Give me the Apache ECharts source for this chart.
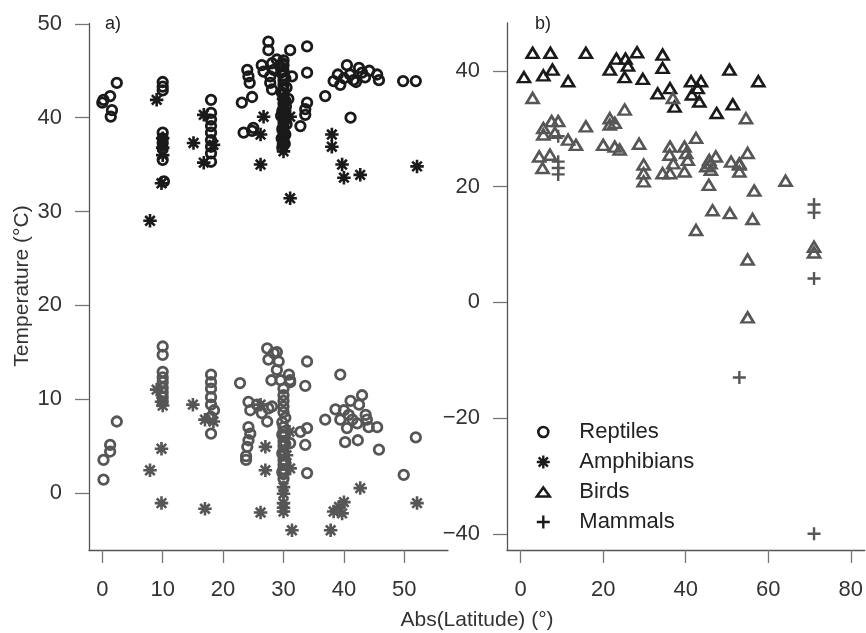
<!DOCTYPE html>
<html>
<head>
<meta charset="utf-8">
<script src="https://cdn.jsdelivr.net/npm/echarts@6/dist/echarts.min.js"></script>
<style>html,body{margin:0;padding:0;background:#fff}#c{width:866px;height:633px}</style>
</head>
<body>
<div id="c"></div>
<script>
// ---------- DATA ([abs latitude, temperature]) ----------
// Panel a) upper values (black)
const reptilesMaxA = [[0,41.6],[0.2,41.9],[1.3,42.3],[2.4,43.7],[1.6,40.8],[1.4,40.1],
  [10,43.8],[10,43.3],[10,42.9],[10,38.4],[10,37.8],[10,37.3],[10,36.7],[10,35.5],[10.2,33.2],
  [18,41.9],[18,40.5],[18,39.8],[18,39.1],[18,38.4],[18,37.6],[18,36.9],[18,36.2],[18,35.3],
  [23.1,41.6],[24.8,42.2],[24,45.1],[24.2,44.4],[24.4,43.7],[23.4,38.4],[24.8,38.6],[25,38.9],
  [27.5,48.1],[27.5,47.2],[26.4,45.6],[26.7,44.9],[28.1,45.8],[28.4,45.1],[27.8,44.4],[27.8,43.7],[28.1,43.0],[28.9,46.2],[29.4,45.5],
  [30,46.1],[30,45.6],[30,45],[30,44.5],[30,44],[30,43.5],[30,43],[30,42.5],[30,42],[30,41.5],[30,41],[30,40.5],[30,40],[30,39.5],[30,39],[30,38.5],[30,38],[30,37.5],
  [29.6,44.8],[30.5,43.2],[30.4,41.2],[29.6,40.2],[30.5,39.3],[29.7,37.8],[31.1,47.2],[31.4,44.4],[30.8,42],
  [29.8,45.8],[30.3,44.2],[29.7,42.7],[30.3,41.8],[29.8,40.7],[30.3,39.8],[29.8,38.8],[30.3,38.2],[30.2,37.2],[29.8,36.8],
  [33.9,47.6],[33.9,44.8],[33.9,41.6],[33.6,40.9],[33.6,40.3],[32.8,39.1],[36.9,42.3],[41.1,40.0],
  [38.3,43.9],[39.4,43.5],[40.5,45.6],[41.6,44.0],[42.5,45.3],[43,44.8],[41,44.6],[42,43.8],[43.5,44.3],[44.2,45],[45.5,44.6],[45.8,44.0],[40,44.2],[39,44.6],
  [49.8,43.9],[51.9,43.9]];
const amphibiansMaxA = [[7.9,29.0],[9,41.9],[10,37.8],[10,36.8],[10,36.0],[9.8,33.0],[15.1,37.3],[16.8,40.3],[18.4,37.1],[16.8,35.2],
  [26.7,40.1],[26.2,38.2],[26.2,35.0],[30,36.4],[30,37.2],[30,38.5],[30.2,40],[31.1,40.1],[30,42],[31.1,31.4],
  [38,38.2],[38,36.9],[39.7,35.0],[40,33.6],[42.7,33.9],[52.1,34.8]];
// Panel a) lower values (grey)
const reptilesMinA = [[0.2,3.5],[0.2,1.4],[1.3,5.1],[1.3,4.4],[2.4,7.6],
  [10,15.6],[10,14.7],[10,12.9],[10,12.3],[10,11.8],[10,11.2],[10,10.7],[10,10.2],[10,9.7],
  [18,12.6],[18,11.8],[18,11.1],[18,10.2],[18,9.4],[18.5,8.8],[18,8.1],[18,6.3],[22.8,11.7],
  [24.2,9.7],[24.5,8.8],[25.6,9.4],[26.4,8.5],[27.5,9.0],[28.1,9.2],[27.3,7.6],
  [24.2,7.0],[24.5,6.3],[24.2,5.6],[24,4.9],[23.8,3.9],[23.8,3.5],
  [27.3,15.4],[28.4,14.9],[28.9,15.0],[27.5,14.2],[29.2,14.0],[28.9,13.1],[28,12.0],[29.5,12.0],[30.9,12.6],[31.1,11.8],[30,11.1],
  [30,10.4],[30,9.8],[30,9.2],[30,8.6],[30,7],[30,6.5],[30,6],[30,5.5],[30,5],[30,4.5],[30,4],[30,3.5],[30,3],[30,2.5],[30,2],[30,1.5],[30.3,8],[29.8,7.5],
  [29.8,6.2],[30.3,5.2],[29.8,4.2],[30.3,3.2],[29.8,2.2],
  [33.9,14.0],[39.4,12.6],[33.6,11.4],[31.1,12.0],[33.9,6.9],[32.8,6.5],[33.6,5.1],[33.9,2.1],[31.1,5.3],
  [36.9,7.8],[38.6,8.9],[39.4,7.8],[40.5,6.9],[40.2,5.4],[42.3,5.6],[41.1,9.8],[43,10.4],[42.5,9.4],[43.6,8.3],[43.8,7.8],[42.2,7.4],[44.1,7.0],[45.5,7.0],[45.8,4.6],[40.8,8.3],[40,8.8],[41.4,7.8],
  [51.9,5.9],[49.9,1.9]];
const amphibiansMinA = [[9,11.0],[9.8,9.7],[10,9.3],[9.8,4.7],[7.9,2.4],[9.8,-1.1],[15,9.4],[17,7.8],[18.4,7.6],[17,-1.7],
  [26.2,-2.1],[27,4.9],[27,2.4],[26.2,9.4],[30,0.6],[30,-0.1],[30,-1.1],[30,-1.6],[30,-2.0],[31.1,2.6],[30.5,4],[31,6.5],
  [31.4,-4.0],[37.8,-4.0],[38.3,-2.0],[39.2,-1.5],[39.7,-2.2],[40,-1.0],[42.7,0.5],[52.1,-1.1]];
// Panel b)
const birdsMaxB = [[2.9,43.1],[7.2,43.1],[15.8,43.1],[0.8,38.9],[5.5,39.2],[7.7,40.2],[11.5,38.2],[21.6,40.2],[23.2,42.1],[25.4,42.1],
  [26,40.9],[25.2,38.9],[28.2,43.2],[29.6,38.6],[34.4,42.8],[34.4,40.5],[33.2,36.1],[36.2,37.0],[37.3,33.8],[41.3,38.2],
  [41.5,35.9],[43.7,38.2],[43.3,34.7],[42.9,37.0],[50.6,40.2],[57.6,38.2],[47.5,32.7],[51.4,34.2]];
const birdsMinB = [[2.9,35.3],[5.5,30.1],[7.5,31.3],[9.1,31.3],[5.5,29.0],[8.3,29.3],[11.5,28.1],[13.4,27.2],[15.8,30.4],[4.5,25.2],
  [7.1,25.5],[5.3,23.2],[20,27.2],[21.6,31.8],[22.8,31.0],[21.6,30.7],[25.2,33.3],[22.8,26.9],[24,26.4],[28.7,27.4],
  [29.8,23.8],[29.8,22.3],[29.8,20.9],[36.2,26.9],[36.1,25.5],[34.4,22.3],[36.2,22.3],[36.9,35.3],[39.7,26.9],[40.1,25.8],
  [40.5,24.6],[39.7,22.6],[42.5,28.4],[54.6,31.8],[45.7,24.6],[47.3,25.2],[46.1,22.9],[51,24.3],[53,23.8],[53,22.6],
  [55,25.8],[45.6,20.3],[56.6,19.3],[64.2,21.0],[46.5,15.9],[50.7,15.4],[56.2,14.4],[42.5,12.5],[71.1,9.6],[71.1,8.6],
  [55,7.4],[55,-2.6],[37,24],[45,23.5],[53,24],[46,24]];
const mammalsMinB = [[9.1,28.7],[9.1,24.3],[9.1,23.2],[9.1,22.1],[71.1,16.9],[71.1,15.5],[71.1,4.1],[53,-13],[71.1,-40]];
// tick labels
const ticksXA = [0,10,20,30,40,50];
const ticksYA = [0,10,20,30,40,50];
const ticksXB = [0,20,40,60,80];
const ticksYB = [-40,-20,0,20,40];
const legendNames = ['Reptiles','Amphibians','Birds','Mammals'];

// ---------- STYLE ----------
const FONT = '"Liberation Sans", Arial, sans-serif';
const BLACK = '#1a1a1a', GREY = '#565656';
const CLEAR = 'rgba(0,0,0,0)';
const SYM = {
  circle: {symbol:'circle', symbolSize:9.5, bw:2.8},
  star: {symbol:'path://M0,-10L0,10M-10,0L10,0M-7.07,-7.07L7.07,7.07M-7.07,7.07L7.07,-7.07', symbolSize:13.5, bw:2.6},
  tri: {symbol:'triangle', symbolSize:[12,10], bw:2.6},
  plus: {symbol:'path://M0,-10L0,10M-10,0L10,0', symbolSize:13, bw:2.4}
};
function sc(name, data, sym, color, gi) {
  return {type:'scatter', name, data, xAxisIndex:gi, yAxisIndex:gi,
    symbol:sym.symbol, symbolSize:sym.symbolSize, silent:true,
    itemStyle:{color:CLEAR, borderColor:color, borderWidth:sym.bw, opacity:1},
    emphasis:{disabled:true}};
}
function xAx(gi, min, max, ticks) {
  return {type:'value', gridIndex:gi, min, max,
    axisLine:{show:true, onZero:false, lineStyle:{color:'#555', width:1.3}},
    axisTick:{show:true, length:13, customValues:ticks, lineStyle:{color:'#777', width:1.3}},
    axisLabel:{customValues:ticks, margin:29, fontSize:22, color:'#333', fontFamily:FONT},
    splitLine:{show:false}};
}
function yAx(gi, min, max, ticks) {
  return {type:'value', gridIndex:gi, min, max,
    axisLine:{show:true, onZero:false, lineStyle:{color:'#555', width:1.3}},
    axisTick:{show:true, length:14, customValues:ticks, lineStyle:{color:'#777', width:1.3}},
    axisLabel:{customValues:ticks, margin:27, fontSize:22, color:'#333', fontFamily:FONT,
      formatter:v => String(v).replace('-', '\u2212')},
    splitLine:{show:false}};
}
const pad = 'M-7.5,-7.5L-7.5,-7.5M7.5,7.5L7.5,7.5';
const legendIcons = [
  'path://M5,0A5,5,0,1,1,-5,0A5,5,0,1,1,5,0Z' + pad,
  'path://M0,-6.5L0,6.5M-6.5,0L6.5,0M-4.6,-4.6L4.6,4.6M-4.6,4.6L4.6,-4.6' + pad,
  'path://M0,-4.5L6.5,4.5L-6.5,4.5Z' + pad,
  'path://M0,-6.5L0,6.5M-6.5,0L6.5,0' + pad
];
const legendWidths = [2.6, 2.4, 2.5, 2.4];

const chart = echarts.init(document.getElementById('c'), null, {renderer:'canvas'});
chart.setOption({
  animation:false,
  backgroundColor:'#fff',
  grid:[{left:89, top:23.4, width:359, height:526.6},
        {left:507, top:23, width:359, height:527}],
  xAxis:[xAx(0,-2.2,57.23,ticksXA), xAx(1,-3.31,83.38,ticksXB)],
  yAxis:[yAx(0,-6.1,50.05,ticksYA), yAx(1,-42.8,48.26,ticksYB)],
  legend:{orient:'vertical', left:534.5, top:421, padding:0, itemGap:8, itemWidth:15, itemHeight:15,
    selectedMode:false,
    textStyle:{fontSize:22, color:'#222', fontFamily:FONT, padding:[0,0,0,23.5]},
    data:legendNames.map((n,i)=>({name:n, icon:legendIcons[i],
      itemStyle:{color:CLEAR, borderColor:BLACK, borderWidth:legendWidths[i]}}))},
  graphic:[
    {type:'text', x:22, y:286, rotation:Math.PI/2, silent:true,
      style:{text:'Temperature (°C)', fontSize:21, fontFamily:FONT, fill:'#333', align:'center', verticalAlign:'middle'}},
    {type:'text', x:477, y:620, silent:true,
      style:{text:'Abs(Latitude) (°)', fontSize:21, fontFamily:FONT, fill:'#333', align:'center', verticalAlign:'middle'}},
    {type:'text', x:105, y:24, silent:true,
      style:{text:'a)', fontSize:18, fontFamily:FONT, fill:'#222', align:'left', verticalAlign:'middle'}},
    {type:'text', x:535, y:24, silent:true,
      style:{text:'b)', fontSize:18, fontFamily:FONT, fill:'#222', align:'left', verticalAlign:'middle'}}
  ],
  series:[
    sc('Reptiles', reptilesMaxA, SYM.circle, BLACK, 0),
    sc('Amphibians', amphibiansMaxA, SYM.star, BLACK, 0),
    sc('Birds', birdsMaxB, SYM.tri, BLACK, 1),
    sc('Mammals', mammalsMinB, SYM.plus, GREY, 1),
    sc('Reptiles', reptilesMinA, SYM.circle, GREY, 0),
    sc('Amphibians', amphibiansMinA, SYM.star, GREY, 0),
    sc('Birds', birdsMinB, SYM.tri, GREY, 1)
  ]
});
</script>
</body>
</html>
